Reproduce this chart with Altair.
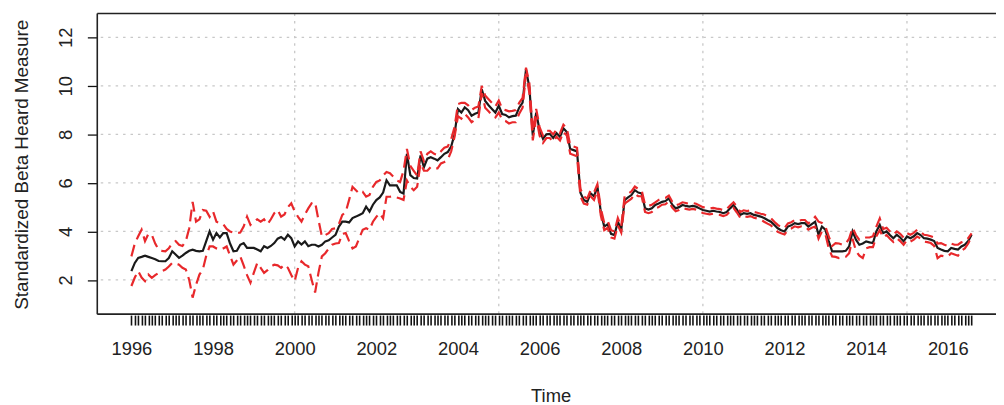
import altair as alt
import pandas as pd

start_year = 1996

# Standardized Beta Heard Measure, monthly Jan 1996 - Aug 2016 (estimate)
beta_mid = [
    2.36, 2.70, 2.91, 2.95, 3.00, 2.95, 2.90, 2.85, 2.78, 2.77, 2.77, 2.90,
    3.18, 3.05, 2.91, 3.00, 3.11, 3.20, 3.25, 3.20, 3.18, 3.20, 3.60, 4.00,
    3.66, 3.93, 3.75, 3.93, 3.93, 3.50, 3.18, 3.20, 3.45, 3.52, 3.32, 3.32,
    3.32, 3.25, 3.18, 3.39, 3.32, 3.40, 3.52, 3.70, 3.77, 3.66, 3.86, 3.72,
    3.38, 3.59, 3.46, 3.59, 3.39, 3.45, 3.45, 3.38, 3.45, 3.59, 3.63, 3.75,
    3.86, 4.20, 4.40, 4.40, 4.37, 4.55, 4.61, 4.68, 4.75, 5.02, 4.82, 5.10,
    5.29, 5.40, 5.60, 6.11, 5.90, 5.90, 5.90, 5.63, 5.56, 7.20, 6.32, 6.20,
    6.18, 7.13, 6.65, 7.00, 7.06, 7.00, 6.93, 7.06, 7.20, 7.27, 7.50, 8.00,
    9.04, 8.90, 9.11, 9.00, 8.77, 8.85, 8.90, 9.86, 9.38, 9.20, 9.05, 8.90,
    9.18, 8.84, 8.80, 8.70, 8.75, 8.77, 9.10, 9.31, 10.68, 9.93, 7.95, 8.90,
    8.16, 7.82, 8.00, 8.02, 7.85, 8.05, 7.90, 8.25, 8.10, 7.40, 7.35, 7.30,
    5.60, 5.30, 5.22, 5.57, 5.45, 5.84, 4.80, 4.20, 4.30, 3.90, 3.85, 4.40,
    4.07, 5.29, 5.40, 5.50, 5.70, 5.60, 5.57, 4.95, 4.90, 4.95, 5.09, 5.15,
    5.22, 5.25, 5.36, 5.10, 4.95, 5.00, 5.09, 5.05, 5.02, 5.05, 5.02, 4.95,
    4.88, 4.85, 4.82, 4.85, 4.82, 4.80, 4.75, 4.80, 4.95, 5.09, 4.90, 4.68,
    4.75, 4.72, 4.75, 4.68, 4.65, 4.61, 4.55, 4.47, 4.40, 4.27, 4.13, 4.05,
    4.00, 4.20, 4.25, 4.34, 4.30, 4.34, 4.34, 4.20, 4.30, 4.40, 3.86, 4.20,
    4.07, 3.60, 3.18, 3.18, 3.18, 3.18, 3.20, 3.38, 4.00, 3.66, 3.45, 3.50,
    3.59, 3.55, 3.52, 4.00, 4.27, 3.93, 4.00, 3.85, 3.72, 3.86, 3.75, 3.59,
    3.79, 3.72, 3.80, 3.93, 3.85, 3.72, 3.70, 3.66, 3.60, 3.32, 3.25, 3.20,
    3.18, 3.32, 3.28, 3.25, 3.38, 3.45, 3.60, 3.86,
]

beta_upper = [
    2.97, 3.50, 3.80, 4.07, 3.60, 3.90, 3.86, 3.50, 3.25, 3.20, 3.18, 3.30,
    3.52, 3.60, 3.45, 3.40, 3.60, 4.13, 5.22, 4.40, 4.50, 4.88, 4.85, 4.60,
    4.82, 4.40, 4.34, 4.30, 4.10, 4.00, 3.95, 3.93, 3.95, 4.20, 4.61, 4.27,
    4.40, 4.50, 4.40, 4.50, 4.30, 4.50, 4.75, 4.88, 4.61, 4.70, 5.00, 5.16,
    4.82, 4.60, 4.40, 4.70, 4.95, 5.16, 5.20, 4.47, 3.79, 3.85, 3.93, 4.10,
    4.13, 4.30, 4.68, 4.80, 5.30, 5.84, 5.70, 5.56, 5.63, 5.43, 5.50, 5.84,
    6.04, 6.10, 6.30, 6.45, 6.40, 6.25, 6.10, 6.04, 6.50, 7.40, 6.70, 6.50,
    6.30, 7.30, 6.90, 7.20, 7.30, 7.20, 7.15, 7.30, 7.45, 7.50, 7.80, 8.30,
    9.25, 9.30, 9.30, 9.20, 9.00, 9.10, 9.15, 10.00, 9.60, 9.45, 9.30, 9.15,
    9.40, 9.05, 9.00, 8.95, 8.97, 9.00, 9.30, 9.50, 10.75, 10.10, 8.10, 9.05,
    8.30, 7.95, 8.15, 8.15, 8.00, 8.20, 8.05, 8.40, 8.25, 7.55, 7.50, 7.45,
    5.75, 5.45, 5.35, 5.70, 5.60, 5.95, 4.95, 4.35, 4.45, 4.05, 4.00, 4.55,
    4.20, 5.45, 5.55, 5.65, 5.85, 5.75, 5.70, 5.10, 5.05, 5.10, 5.20, 5.30,
    5.35, 5.38, 5.48, 5.22, 5.07, 5.12, 5.20, 5.17, 5.14, 5.17, 5.14, 5.07,
    5.00, 4.97, 4.94, 4.97, 4.94, 4.92, 4.87, 4.92, 5.07, 5.20, 5.02, 4.80,
    4.87, 4.84, 4.87, 4.80, 4.77, 4.73, 4.70, 4.62, 4.55, 4.40, 4.27, 4.18,
    4.13, 4.33, 4.38, 4.47, 4.43, 4.47, 4.47, 4.33, 4.45, 4.60, 4.40, 4.35,
    4.20, 3.80, 3.40, 3.52, 3.50, 3.45, 3.50, 3.70, 4.15, 3.85, 3.65, 3.70,
    3.75, 3.75, 3.80, 4.20, 4.54, 4.10, 4.15, 4.00, 3.87, 4.00, 3.90, 3.75,
    3.93, 3.86, 3.94, 4.07, 3.99, 3.86, 3.84, 3.80, 3.75, 3.50, 3.52, 3.45,
    3.40, 3.50, 3.45, 3.45, 3.55, 3.60, 3.72, 3.92,
]

beta_lower = [
    1.75, 2.10, 2.36, 2.10, 1.95, 2.22, 2.09, 2.20, 2.29, 2.36, 2.43, 2.55,
    2.70, 2.68, 2.63, 2.50, 2.43, 2.00, 1.27, 1.80, 2.22, 2.43, 3.00, 3.38,
    3.38, 3.30, 3.25, 3.30, 3.38, 3.00, 2.63, 2.80, 2.97, 2.60, 2.20, 1.88,
    2.30, 2.70, 2.50, 2.29, 2.40, 2.55, 2.63, 2.60, 2.50, 2.63, 2.50, 2.20,
    1.95, 2.50, 2.77, 2.63, 2.56, 2.00, 1.48, 2.30, 2.97, 3.10, 3.30, 3.45,
    3.50, 3.52, 3.90, 3.93, 3.60, 3.30, 3.38, 3.72, 4.07, 4.13, 4.07, 4.40,
    4.60, 4.75, 4.54, 5.43, 5.43, 5.45, 5.40, 5.36, 5.30, 6.10, 5.84, 5.70,
    5.84, 6.80, 6.50, 6.50, 6.65, 6.60, 6.60, 6.80, 6.86, 6.95, 7.30, 7.90,
    8.75, 8.65, 8.85, 8.70, 8.50, 8.60, 8.65, 9.70, 9.10, 8.95, 8.80, 8.70,
    8.90, 8.60, 8.55, 8.45, 8.50, 8.50, 8.85, 9.10, 10.50, 9.70, 7.75, 8.70,
    7.95, 7.65, 7.85, 7.85, 7.70, 7.90, 7.75, 8.10, 7.95, 7.20, 7.15, 7.10,
    5.45, 5.15, 5.10, 5.45, 5.30, 5.70, 4.65, 4.05, 4.15, 3.75, 3.70, 4.25,
    3.95, 5.15, 5.25, 5.35, 5.55, 5.45, 5.45, 4.80, 4.75, 4.80, 4.95, 5.00,
    5.10, 5.12, 5.24, 4.98, 4.83, 4.88, 4.97, 4.93, 4.90, 4.93, 4.90, 4.83,
    4.76, 4.73, 4.70, 4.73, 4.70, 4.68, 4.63, 4.68, 4.83, 4.97, 4.78, 4.56,
    4.63, 4.60, 4.63, 4.56, 4.53, 4.49, 4.40, 4.32, 4.25, 4.12, 3.98, 3.92,
    3.87, 4.07, 4.12, 4.21, 4.17, 4.21, 4.21, 4.07, 4.15, 4.20, 3.70, 4.00,
    3.90, 3.30, 2.97, 2.95, 2.90, 2.92, 2.95, 3.10, 3.70, 3.20, 3.00, 2.90,
    3.30, 3.35, 3.35, 3.80, 4.05, 3.75, 3.85, 3.70, 3.57, 3.72, 3.60, 3.45,
    3.65, 3.58, 3.66, 3.79, 3.71, 3.58, 3.56, 3.52, 3.40, 2.90, 3.00, 2.97,
    2.97, 3.10, 3.05, 3.00, 3.20, 3.30, 3.50, 3.80,
]

y_ticks = [2, 4, 6, 8, 10, 12]
x_grid = [2000, 2005, 2010, 2015]

n = len(beta_mid)
t = [start_year + i / 12 for i in range(n)]

W, H = 906, 303
FONT = "Liberation Sans"

mid_df = pd.DataFrame({"t": t, "v": beta_mid})
band_df = pd.concat([
    pd.DataFrame({"t": t, "v": beta_upper, "s": "upper"}),
    pd.DataFrame({"t": t, "v": beta_lower, "s": "lower"}),
])
gy_df = pd.DataFrame({"v": y_ticks})
gx_df = pd.DataFrame({"t": x_grid})

xscale = alt.Scale(domain=[1995.164, 2017.181], nice=False, zero=False)
yscale = alt.Scale(domain=[0.59, 12.98], nice=False, zero=False)

xaxis = alt.Axis(
    values=t, labelExpr="datum.value % 2 == 0 ? format(datum.value, 'd') : ''",
    labelOverlap=False, labelFlush=False, labelBound=False,
    tickSize=10, tickColor="#111111", tickWidth=1.6, offset=1,
    domain=False, grid=False,
    labelFont=FONT, labelFontSize=18.5, labelColor="#222222", labelPadding=15,
    title="Time", titleFont=FONT, titleFontSize=18.5, titleFontWeight="normal",
    titleColor="#222222", titleBaseline="alphabetic", titleX=457, titleY=87,
    titleAlign="center",
)
yaxis = alt.Axis(
    values=y_ticks, labelAngle=-90, labelAlign="center", labelBaseline="bottom",
    tickSize=10, tickColor="#111111", tickWidth=1.3,
    domain=False, grid=False,
    labelFont=FONT, labelFontSize=18.5, labelColor="#222222", labelPadding=12,
    title="Standardized Beta Heard Measure", titleFont=FONT, titleFontSize=19,
    titleFontWeight="normal", titleColor="#222222", titleAngle=-90,
    titleBaseline="alphabetic", titleAlign="center", titleX=-70, titleY=152,
)

x_enc = alt.X("t:Q", scale=xscale, axis=xaxis)
y_enc = alt.Y("v:Q", scale=yscale, axis=yaxis)

grid_h = alt.Chart(gy_df).mark_rule(
    color="#c8c8c8", strokeWidth=1.3, strokeDash=[2.5, 5]
).encode(y=y_enc)

grid_v = alt.Chart(gx_df).mark_rule(
    color="#c8c8c8", strokeWidth=1.3, strokeDash=[2.5, 5]
).encode(x=x_enc)

mid_line = alt.Chart(mid_df).mark_line(
    color="#1a1a1a", strokeWidth=2.2
).encode(x=x_enc, y=y_enc)

band_lines = alt.Chart(band_df).mark_line(
    color="#e8282b", strokeWidth=2.2, strokeDash=[12, 6]
).encode(x=x_enc, y=y_enc, detail="s:N")

border_src = alt.Chart(pd.DataFrame({"k": [0]}))
b_top = border_src.mark_rule(color="#222222", strokeWidth=1.6).encode(
    x=alt.value(0), x2=alt.value(W), y=alt.value(0))
b_bot = border_src.mark_rule(color="#222222", strokeWidth=1.6).encode(
    x=alt.value(0), x2=alt.value(W), y=alt.value(H))
b_left = border_src.mark_rule(color="#222222", strokeWidth=1.6).encode(
    x=alt.value(0), y=alt.value(0), y2=alt.value(H))

chart = alt.layer(
    grid_h, grid_v, mid_line, band_lines, b_top, b_bot, b_left
).properties(
    width=W, height=H,
    autosize=alt.AutoSizeParams(type="none"),
    padding={"left": 90, "top": 4, "right": 0, "bottom": 90},
    background="white",
).configure_view(stroke=None)

chart.save("out.html", embed_options={"renderer": "svg", "actions": False})
